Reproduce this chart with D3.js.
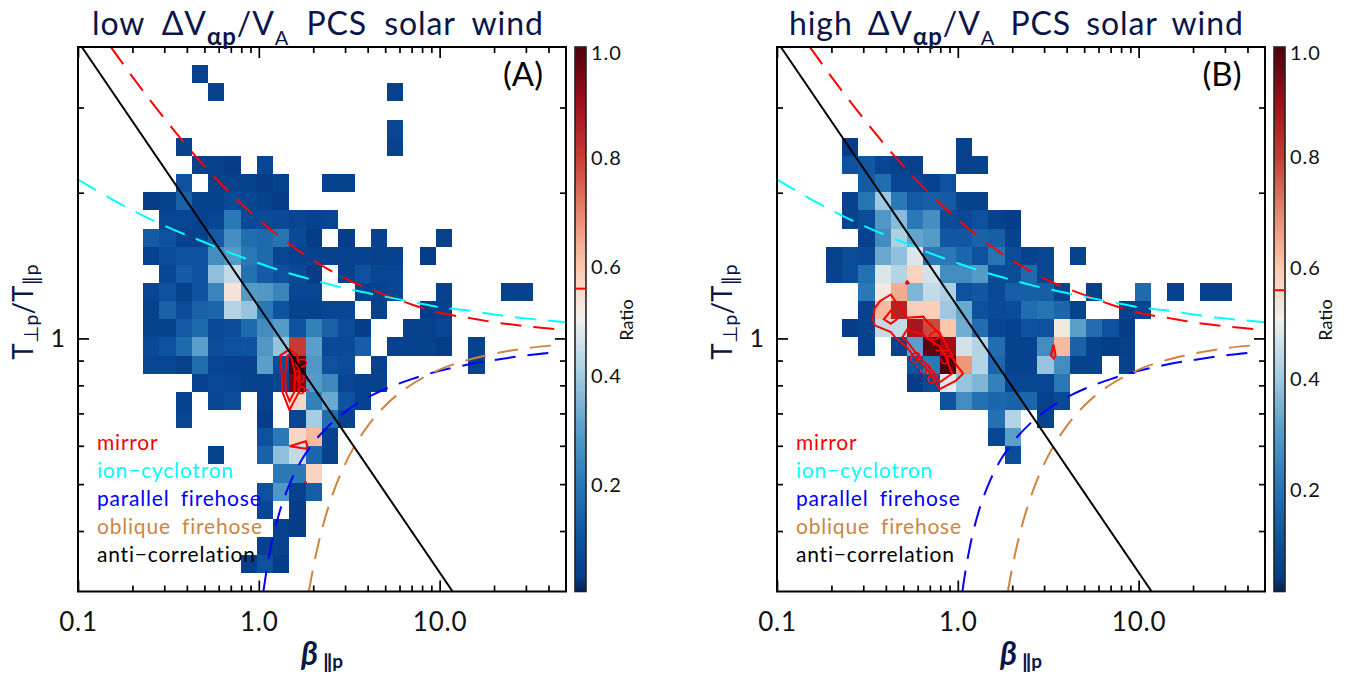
<!DOCTYPE html>
<html>
<head>
<meta charset="utf-8">
<script src="https://cdn.jsdelivr.net/npm/d3@7"></script>
<style>
  body { margin: 0; background: #fff; }
  text { font-family: "Lato", "DejaVu Sans", sans-serif; }
</style>
</head>
<body>
<div id="chart"></div>
<script>
// ratio cells, one list per row top to bottom: [column, value, column, value, ...]
const lowRows = [
  [],
  [7,.04],
  [8,.04, 19,.04],
  [],
  [19,.06],
  [6,.05, 19,.05],
  [7,.04, 8,.04, 9,.03, 11,.06],
  [6,.09, 8,.04, 9,.05, 10,.05, 11,.03, 12,.05, 15,.05, 16,.05],
  [4,.03, 5,.05, 6,.14, 7,.05, 8,.05, 9,.07, 10,.06, 11,.05, 12,.03],
  [5,.06, 6,.06, 7,.05, 8,.06, 9,.2, 10,.07, 11,.07, 12,.07, 13,.06, 14,.05, 15,.06],
  [4,.12, 5,.09, 6,.05, 7,.05, 8,.12, 9,.26, 10,.17, 11,.16, 12,.19, 13,.07, 14,.03, 16,.03, 18,.05, 22,.04],
  [4,.05, 5,.08, 6,.09, 7,.1, 8,.25, 9,.29, 10,.2, 11,.16, 12,.06, 13,.05, 14,.05, 15,.05, 16,.05, 17,.05, 18,.04, 19,.05, 21,.03],
  [5,.06, 6,.12, 7,.1, 8,.37, 9,.44, 10,.18, 11,.12, 12,.09, 13,.07, 14,.03, 16,.05, 17,.09, 18,.06, 19,.06],
  [4,.06, 5,.09, 6,.05, 7,.1, 8,.23, 9,.53, 10,.29, 11,.28, 12,.23, 13,.06, 14,.06, 17,.05, 18,.05, 19,.06, 22,.05, 26,.05, 27,.05],
  [4,.05, 5,.14, 6,.08, 7,.14, 8,.15, 9,.42, 10,.38, 11,.2, 12,.1, 13,.05, 14,.05, 15,.06, 16,.06, 18,.04, 21,.03, 22,.04],
  [4,.05, 5,.05, 6,.12, 7,.16, 8,.07, 9,.08, 10,.16, 11,.25, 12,.29, 13,.1, 14,.22, 15,.14, 16,.08, 17,.03, 20,.05, 21,.04, 22,.06],
  [4,.07, 5,.09, 6,.16, 7,.3, 8,.08, 9,.09, 10,.1, 11,.28, 12,.38, 13,.8, 14,.3, 15,.07, 16,.07, 17,.13, 19,.05, 20,.05, 21,.05, 22,.03, 24,.05],
  [4,.06, 5,.06, 6,.04, 7,.17, 8,.06, 9,.05, 10,.05, 11,.3, 12,.08, 13,1, 14,.28, 15,.09, 16,.08, 18,.04, 24,.05],
  [7,.05, 8,.07, 9,.06, 10,.05, 11,.05, 12,.06, 13,.95, 14,.29, 15,.24, 16,.06, 17,.05, 18,.05],
  [6,.05, 8,.06, 9,.08, 11,.05, 13,.56, 14,.22, 15,.32, 16,.1, 17,.05],
  [6,.06, 11,.03, 13,.06, 14,.4, 15,.17, 16,.05],
  [11,.09, 12,.2, 13,.56, 14,.62, 15,.05],
  [8,.05, 11,.14, 12,.37, 13,.44, 14,.15, 15,.05],
  [12,.2, 13,.2, 14,.565],
  [11,.09, 12,.28, 13,.05, 14,.13],
  [11,.06, 13,.03],
  [12,.05, 13,.03],
  [11,.05, 12,.05],
  [10,.03, 11,.09, 12,.03],
  []
];
const highRows = [
  [], [], [], [], [],
  [4,.03, 11,.04],
  [4,.09, 5,.11, 6,.06, 7,.04, 8,.04, 11,.04, 12,.05],
  [5,.12, 6,.17, 7,.06, 8,.06, 9,.05, 10,.09],
  [4,.05, 5,.19, 6,.39, 7,.2, 8,.12, 9,.13, 10,.12, 11,.05, 12,.05],
  [4,.05, 5,.08, 6,.28, 7,.36, 8,.2, 9,.26, 10,.08, 11,.07, 12,.09, 13,.05, 14,.03],
  [5,.04, 6,.25, 7,.41, 8,.31, 9,.29, 10,.11, 11,.11, 12,.14, 13,.13, 14,.05],
  [3,.04, 4,.08, 5,.07, 6,.32, 7,.37, 8,.47, 9,.2, 10,.2, 11,.15, 12,.09, 13,.19, 14,.08, 15,.05, 16,.06, 18,.05],
  [3,.05, 4,.08, 5,.18, 6,.47, 7,.42, 8,.57, 9,.46, 10,.25, 11,.25, 12,.29, 13,.08, 14,.08, 15,.16, 16,.06],
  [5,.2, 6,.52, 7,.64, 8,.35, 9,.44, 10,.41, 11,.09, 12,.11, 13,.07, 14,.13, 15,.13, 16,.13, 17,.05, 19,.04, 22,.16, 24,.05, 26,.05, 27,.04],
  [5,.05, 6,.62, 7,.85, 8,.58, 9,.58, 10,.39, 11,.32, 12,.09, 13,.07, 14,.08, 15,.17, 16,.19, 17,.15, 18,.05, 21,.05, 22,.06],
  [4,.03, 5,.05, 6,.44, 7,.44, 8,.88, 9,.78, 10,.6, 11,.33, 12,.17, 13,.06, 14,.05, 15,.1, 16,.09, 17,.52, 18,.3, 19,.17, 20,.09, 21,.03],
  [5,.05, 7,.05, 8,.3, 9,.98, 10,.9, 11,.46, 12,.42, 13,.17, 14,.05, 15,.05, 16,.25, 17,.62, 18,.14, 19,.05, 20,.03, 21,.04],
  [8,.1, 9,.2, 10,1, 11,.67, 12,.42, 13,.15, 14,.05, 15,.05, 16,.38, 17,.25, 18,.05, 19,.05, 21,.05],
  [8,.03, 9,.08, 10,.48, 11,.38, 12,.35, 13,.22, 14,.06, 15,.06, 16,.06, 17,.2],
  [10,.1, 11,.25, 12,.18, 13,.15, 14,.14, 15,.15, 16,.05, 17,.07],
  [13,.18, 14,.42, 16,.05],
  [13,.06, 14,.3],
  [14,.08],
  [], [], [], [], [], [], []
];

// threshold curves, beta and Tperp/Tpar
const mirrorBeta = [.152,.2,.3,.5,.7,1,1.5,2,3,5,7,10,15,20,30,50];
const mirrorRatio = [4,3.47,2.85,2.27,1.99,1.76,1.56,1.45,1.33,1.23,1.175,1.13,1.1,1.08,1.06,1.04];
const cyclotronBeta = [.1,.15,.2,.3,.5,.7,1,1.5,2,3,5,7,10,15,20,30,50];
const cyclotronRatio = [2.13,1.95,1.84,1.71,1.58,1.5,1.43,1.36,1.32,1.27,1.22,1.19,1.16,1.14,1.12,1.1,1.08];
const parallelBeta = [1.06,1.1,1.2,1.3,1.5,1.75,2,2.5,3,4,5,7,10,15,20,30,45];
const parallelRatio = [.3,.329,.39,.437,.506,.566,.608,.666,.705,.755,.786,.824,.857,.886,.902,.922,.937];
const obliqueBeta = [1.89,2,2.25,2.5,3,3.5,4,5,7,10,15,20,30,45];
const obliqueRatio = [.3,.336,.407,.464,.55,.612,.659,.726,.803,.862,.907,.93,.954,.969];
const antiBeta = [.105,11.8];
const antiRatio = [4,.3];

const xMajor = [.1,1,10];
const xMinor = [.2,.3,.4,.5,.6,.7,.8,.9,2,3,4,5,6,7,8,9,20,30,40];
const yMajor = [1];
const yMinor = [.4,.5,.6,.7,.8,.9,2,3];
const barLabels = [.2,.4,.6,.8,1];
const contourLevels = [.56,.75];
const legendNames = ["mirror","ion\u2212cyclotron","parallel firehose","oblique firehose","anti\u2212correlation"];
const legendColors = ["#ff0000","#00ffff","#0000ff","#cd853f","#000000"];

const stopValues = [0,.025,.05,.1,.2,.3,.4,.5,.6,.7,.8,.9,1];
const stopColors = ["#041f52","#063c86","#07428f","#0e53a0","#2a78b5","#5a9fca","#a5cde3","#f1f0ee","#fcc6ab","#e6836a","#c63a33","#a00d1a","#4d000f"];

const navy = "#0a1648";
const nCells = 30;
const plotTop = 47, plotH = 544.5, plotW = 488;

const color = d3.scaleLinear().domain(stopValues).range(stopColors);

const svg = d3.select("#chart").append("svg")
  .attr("width", 1359).attr("height", 677);

const gradient = svg.append("defs").append("linearGradient")
  .attr("id", "bar").attr("x1", 0).attr("x2", 0).attr("y1", 1).attr("y2", 0);

function toGrid(rows) {
  const grid = new Array(nCells * nCells).fill(0);
  rows.forEach((list, r) => {
    for (let i = 0; i < list.length; i += 2) grid[r * nCells + list[i]] = list[i + 1];
  });
  return grid;
}

function drawPanel(opt) {
  const g = svg.append("g").attr("transform", `translate(${opt.left},${plotTop})`);

  const x = d3.scaleLog().domain([.1, 50]).range([0, plotW]);
  const y = d3.scaleLog().domain([.3, 4]).range([plotH, 0]);
  const col = d3.scaleBand().domain(d3.range(nCells)).range([0, plotW]);
  const row = d3.scaleBand().domain(d3.range(nCells)).range([0, plotH]);
  const grid = toGrid(opt.rows);

  const cells = grid.map((v, i) => ({c: i % nCells, r: Math.floor(i / nCells), v})).filter(d => d.v > 0);
  g.append("g").selectAll("rect").data(cells).enter().append("rect")
    .attr("x", d => col(d.c))
    .attr("y", d => row(d.r))
    .attr("width", col.bandwidth())
    .attr("height", row.bandwidth())
    .attr("shape-rendering", "crispEdges")
    .attr("fill", d => color(d.v));

  // contour grid points sit on the lower left corner of each cell
  const toPlot = d3.geoTransform({
    point(px, py) {
      this.stream.point((px - .5) * col.bandwidth(), (py + .5) * row.bandwidth());
    }
  });
  const contours = d3.contours().size([nCells, nCells]).thresholds(contourLevels)(grid);
  g.append("g").selectAll("path").data(contours).enter().append("path")
    .attr("d", d3.geoPath(toPlot))
    .attr("fill", "none")
    .attr("stroke", "#ff0000")
    .attr("stroke-width", 2);

  g.append("g").selectAll("text").data(opt.contourText).enter().append("text")
    .attr("transform", d => `translate(${d[1]},${d[2]}) rotate(${d[3]})`)
    .attr("text-anchor", "middle")
    .attr("dy", "0.35em")
    .attr("font-size", 17)
    .attr("letter-spacing", 1)
    .attr("fill", "#ff0000")
    .text(d => d[0]);

  const line = d3.line().x(d => x(d[0])).y(d => y(d[1])).curve(d3.curveMonotoneX);
  const curves = [
    [mirrorBeta, mirrorRatio, legendColors[0]],
    [cyclotronBeta, cyclotronRatio, legendColors[1]],
    [parallelBeta, parallelRatio, legendColors[2]],
    [obliqueBeta, obliqueRatio, legendColors[3]]
  ];
  curves.forEach(c => {
    g.append("path")
      .datum(d3.zip(c[0], c[1]))
      .attr("d", line)
      .attr("fill", "none")
      .attr("stroke", c[2])
      .attr("stroke-width", 2)
      .attr("stroke-dasharray", "21,12");
  });
  g.append("path")
    .datum(d3.zip(antiBeta, antiRatio))
    .attr("d", line)
    .attr("fill", "none")
    .attr("stroke", "#000")
    .attr("stroke-width", 2);

  // ticks point inward on all four sides
  const blank = () => "";
  const addAxis = (axis, tx, ty) => g.append("g")
    .attr("transform", `translate(${tx},${ty})`)
    .call(axis)
    .call(a => a.select(".domain").remove())
    .call(a => a.selectAll("line").attr("stroke-width", 1.7));

  const bottomMajor = addAxis(d3.axisBottom(x).tickValues(xMajor).tickSize(-11).tickPadding(21)
    .tickFormat(d => d === 10 ? "10.0" : d3.format(".1f")(d)), 0, plotH);
  bottomMajor.selectAll("text").attr("font-size", 26).attr("letter-spacing", .8).attr("fill", "#111");
  addAxis(d3.axisBottom(x).tickValues(xMinor).tickSize(-6).tickFormat(blank), 0, plotH);
  addAxis(d3.axisTop(x).tickValues(xMajor).tickSize(-11).tickFormat(blank), 0, 0);
  addAxis(d3.axisTop(x).tickValues(xMinor).tickSize(-6).tickFormat(blank), 0, 0);

  const leftMajor = addAxis(d3.axisLeft(y).tickValues(yMajor).tickSize(-11).tickPadding(13)
    .tickFormat(d3.format("d")), 0, 0);
  leftMajor.selectAll("text").attr("font-size", 25).attr("fill", "#111");
  addAxis(d3.axisLeft(y).tickValues(yMinor).tickSize(-6).tickFormat(blank), 0, 0);
  addAxis(d3.axisRight(y).tickValues(yMajor).tickSize(-11).tickFormat(blank), plotW, 0);
  addAxis(d3.axisRight(y).tickValues(yMinor).tickSize(-6).tickFormat(blank), plotW, 0);

  g.append("rect")
    .attr("width", plotW).attr("height", plotH)
    .attr("fill", "none").attr("stroke", "#000").attr("stroke-width", 2);

  // legend
  g.append("g").selectAll("text").data(legendNames).enter().append("text")
    .attr("x", 19)
    .attr("y", (d, i) => 403 + i * 28)
    .attr("font-size", 21)
    .attr("word-spacing", 5)
    .attr("letter-spacing", .8)
    .attr("fill", (d, i) => legendColors[i])
    .text(d => d);

  g.append("text")
    .attr("x", opt.tagX).attr("y", 39)
    .attr("font-size", 33)
    .attr("fill", "#000")
    .attr("text-anchor", "middle")
    .text(opt.tag);

  // title
  const title = svg.append("text")
    .attr("x", opt.left + opt.titleX).attr("y", 35)
    .attr("font-size", 32)
    .attr("letter-spacing", .9)
    .attr("word-spacing", opt.titleGap)
    .attr("fill", navy);
  title.append("tspan").text(opt.titleLead + " \u0394V");
  title.append("tspan").attr("dy", 10).attr("font-size", 24).attr("font-weight", 700).text("\u03b1p");
  title.append("tspan").attr("dy", -10).text("/V");
  title.append("tspan").attr("dy", 10).attr("font-size", 20).text("A");
  title.append("tspan").attr("dy", -10).text(" PCS solar wind");

  // axis titles
  const xTitle = g.append("text")
    .attr("x", 244).attr("y", 618)
    .attr("text-anchor", "middle")
    .attr("font-size", 32)
    .attr("fill", navy);
  xTitle.append("tspan").attr("font-weight", 700).attr("font-style", "italic").text("\u03b2");
  xTitle.append("tspan").attr("dy", 3).attr("font-size", 19).attr("font-weight", 700).text(" \u2225p");

  const yTitle = svg.append("text")
    .attr("transform", `translate(${opt.left - 45},312) rotate(-90)`)
    .attr("text-anchor", "middle")
    .attr("font-size", 28)
    .attr("fill", navy);
  yTitle.append("tspan").text("T");
  yTitle.append("tspan").attr("dy", 5).attr("font-size", 20).text("\u22a5p");
  yTitle.append("tspan").attr("dy", -5).text("/T");
  yTitle.append("tspan").attr("dy", 5).attr("font-size", 20).text("\u2225p");

  // colour bar
  const barY = d3.scaleLinear().domain(opt.barDomain).range(opt.barRange);
  const bar = svg.append("g").attr("transform", `translate(${opt.left + 497},${plotTop})`);
  bar.append("rect")
    .attr("width", 11).attr("height", plotH)
    .attr("fill", "url(#bar)")
    .attr("stroke", "#222").attr("stroke-width", 1.6);
  bar.append("line")
    .attr("x1", 0).attr("x2", 11)
    .attr("y1", barY(contourLevels[0]) - plotTop).attr("y2", barY(contourLevels[0]) - plotTop)
    .attr("stroke", "#ff0000").attr("stroke-width", 2);
  bar.selectAll("text.tick").data(barLabels).enter().append("text")
    .attr("class", "tick")
    .attr("x", 16)
    .attr("y", d => Math.max(barY(d), 53) - plotTop)
    .attr("dy", "0.35em")
    .attr("font-size", 20)
    .attr("letter-spacing", 1)
    .attr("fill", "#111")
    .text(d => d3.format(".1f")(d));
  svg.append("text")
    .attr("transform", `translate(${opt.left + 555},320) rotate(-90)`)
    .attr("text-anchor", "middle")
    .attr("font-size", 18)
    .attr("fill", "#111")
    .text("Ratio");
}

stopValues.forEach((v, i) => {
  gradient.append("stop").attr("offset", v).attr("stop-color", stopColors[i]);
});

drawPanel({
  left: 78, rows: lowRows, tag: "(A)", tagX: 445, titleLead: "low", titleX: 14, titleGap: 8,
  barDomain: [.005, 1], barRange: [591, 49],
  contourText: [["0.56", 224, 330, 85]]
});
drawPanel({
  left: 777, rows: highRows, tag: "(B)", tagX: 445, titleLead: "high", titleX: 12, titleGap: 6,
  barDomain: [.018, 1], barRange: [591, 46],
  contourText: [["0.75", 164, 301, 65], ["0.56", 147, 321, 50]]
});
</script>
</body>
</html>
